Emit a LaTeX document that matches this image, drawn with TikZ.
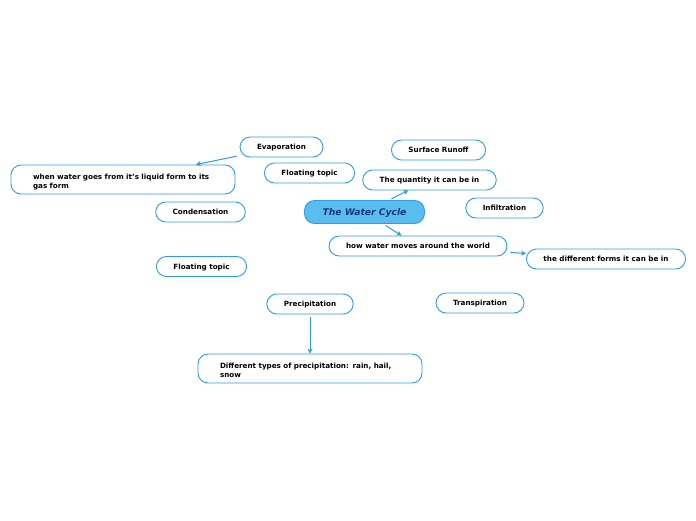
\documentclass[tikz,border=0pt]{standalone}
\usepackage{fontspec}
\setmainfont{DejaVu Sans}
\usetikzlibrary{arrows.meta}
\definecolor{topicblue}{HTML}{2F9BE3}
\definecolor{rootfill}{HTML}{5ABDF0}
\definecolor{roottext}{HTML}{17397A}
\tikzset{
  topic/.style={draw=topicblue, line width=0.9pt, rounded corners=10pt, fill=white,
    minimum height=20pt, inner xsep=17pt, inner ysep=2pt, text height=5.4pt, text depth=0pt,
    font=\fontsize{7.2}{9}\selectfont\bfseries},
  widetopic/.style={topic, text width=180pt, align=left, inner xsep=22pt, minimum height=29pt,
    text depth=5pt},
  roottopic/.style={topic, fill=rootfill, draw=topicblue, text=roottext, text height=6.8pt,
    minimum height=23pt, inner xsep=18pt, font=\fontsize{9.2}{11}\selectfont\bfseries\itshape},
  link/.style={draw=topicblue, line width=1pt, shorten <=3pt,
    -{Stealth[length=5pt,width=5pt]}}
}
\begin{document}
\begin{tikzpicture}[x=1pt, y=-1pt]
  \useasboundingbox (0,0) rectangle (696,520);

  \node (cycle)[roottopic] at (364.5, 212) {The Water Cycle};

  \node (evap)[topic] at (281.5, 147) {Evaporation};
  \node (evapnote)[widetopic] at (123, 179.5) {when water goes from it's liquid form to its\\gas form};
  \node (float1)[topic] at (309.5, 173) {Floating topic};
  \node (cond)[topic] at (200.5, 212) {Condensation};
  \node (runoff)[topic] at (438.5, 150) {Surface Runoff};
  \node (quantity)[topic] at (429.5, 180) {The quantity it can be in};
  \node (infil)[topic] at (504.5, 208) {Infiltration};
  \node (moves)[topic] at (418, 246) {how water moves around the world};
  \node (forms)[topic] at (606, 259) {the different forms it can be in};
  \node (float2)[topic] at (201.5, 266.5) {Floating topic};
  \node (precip)[topic] at (310, 304) {Precipitation};
  \node (transp)[topic] at (480, 303) {Transpiration};
  \node (types)[widetopic] at (310, 368.5) {Different types of precipitation: rain, hail,\\snow};

  \draw[link] (evap) edge (evapnote);
  \draw[link] (cycle) edge (quantity);
  \draw[link] (cycle) edge (moves);
  \draw[link] (moves) edge (forms);
  \draw[link] (precip) edge (types);

\end{tikzpicture}
\end{document}
